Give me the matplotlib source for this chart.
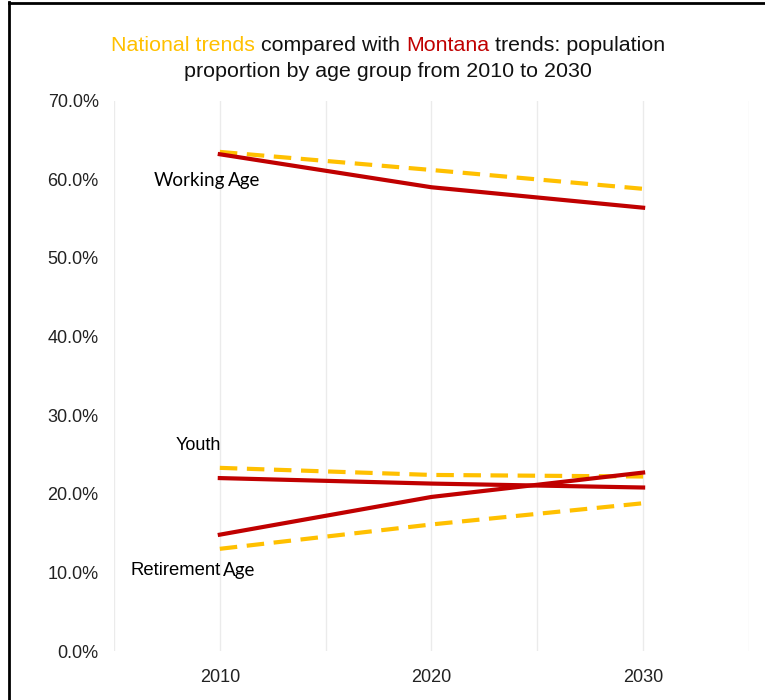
import matplotlib.pyplot as plt
from matplotlib.lines import Line2D
from matplotlib.ticker import FuncFormatter

# Population share by age group (%), Montana vs national
years = [2010, 2020, 2030]
mt_working = [63.2, 59.0, 56.4]
us_working = [63.5, 61.2, 58.8]
mt_youth = [22.0, 21.3, 20.8]
us_youth = [23.3, 22.4, 22.2]
mt_retire = [14.8, 19.6, 22.7]
us_retire = [13.0, 16.1, 18.8]

red = '#C00000'
gold = '#FFC000'
sans = ['Liberation Sans', 'DejaVu Sans']
calibri_like = ['Lato', 'DejaVu Sans']

plt.rcParams['font.family'] = sans

fig = plt.figure(figsize=(7.65, 7.0), dpi=100)
ax = fig.add_axes([0.149, 0.07, 0.830, 0.786])

dash = (4.2, 2.3)
for us in [us_working, us_youth, us_retire]:
    ax.plot(years, us, color=gold, lw=3, dashes=dash, zorder=3)
for mt in [mt_working, mt_youth, mt_retire]:
    ax.plot(years, mt, color=red, lw=3, zorder=4)

ax.set_xlim(2005, 2035)
ax.set_ylim(0, 70)
ax.set_xticks(years)
ax.set_xticks([2005, 2015, 2025, 2035], minor=True)
ax.set_yticks(range(0, 71, 10))
ax.yaxis.set_major_formatter(FuncFormatter(lambda v, p: f'{v:.1f}%'))
ax.tick_params(axis='both', which='both', length=0, labelsize=13, colors='#222222')
ax.tick_params(axis='x', pad=13)
ax.tick_params(axis='y', pad=11)
ax.grid(False)
ax.grid(True, axis='x', which='both', color='#EBEBEB', lw=1)
ax.set_axisbelow(True)
for s in ax.spines.values():
    s.set_visible(False)

# Series labels
def label(x, y, main, small, fam, size=13):
    t = ax.text(x, y, main, fontsize=size, va='center', ha='left', family=fam)
    if small:
        ax.annotate(small, xycoords=t, xy=(1, 0), va='bottom', ha='left',
                    fontsize=13.5, family=calibri_like, xytext=(1.5, 0),
                    textcoords='offset points')

label(2006.9, 59.9, 'Working', 'Age', calibri_like, 13.5)
label(2007.9, 26.1, 'Youth', None, sans)
label(2005.8, 10.3, 'Retirement', 'Age', sans, 13.3)

# Multi-colour title
fig.canvas.draw()
r = fig.canvas.get_renderer()
parts = [('National trends', gold), (' compared with ', '#111111'),
         ('Montana', '#C00000'), (' trends: population', '#111111')]
texts = [fig.text(0, 0.935, p, color=c, fontsize=15.4, va='center') for p, c in parts]
widths = [t.get_window_extent(r).width for t in texts]
x0 = 388 - sum(widths) / 2
for t, w in zip(texts, widths):
    t.set_x(x0 / 765)
    x0 += w
fig.text(388 / 765, 0.898, 'proportion by age group from 2010 to 2030',
         fontsize=15.4, va='center', ha='center', color='#111111')

# Frame lines at left and top
fig.add_artist(Line2D([9 / 765, 9 / 765], [0, 0.997], color='black', lw=2))
fig.add_artist(Line2D([9 / 765, 1], [0.996, 0.996], color='black', lw=2))

fig.savefig('out.png', dpi=100)
